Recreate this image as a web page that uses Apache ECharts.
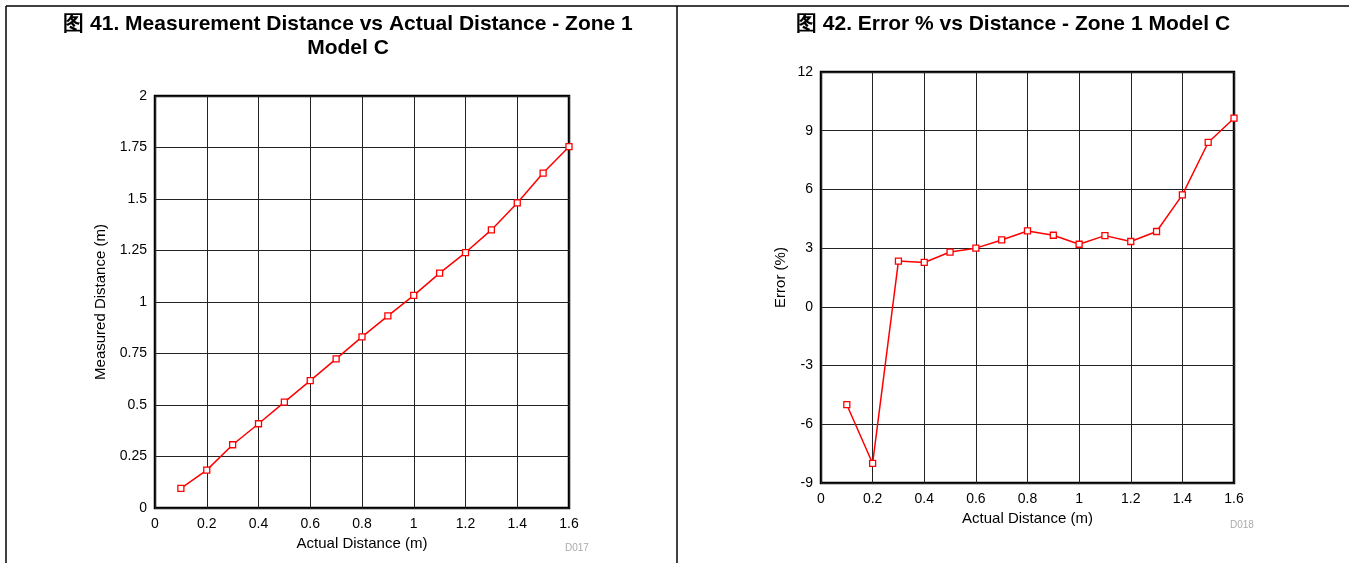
<!DOCTYPE html>
<html><head><meta charset="utf-8">
<script src="https://cdn.jsdelivr.net/npm/echarts@6/dist/echarts.min.js"></script>
<style>html,body{margin:0;padding:0;background:#fff}#c{width:1349px;height:563px}</style>
</head><body><div id="c"></div>
<script>
const actualDistance = [0.1,0.2,0.3,0.4,0.5,0.6,0.7,0.8,0.9,1.0,1.1,1.2,1.3,1.4,1.5,1.6];
const measuredDistance = [0.095,0.184,0.307,0.409,0.514,0.618,0.724,0.831,0.933,1.032,1.140,1.240,1.350,1.481,1.626,1.754];
const errorPct = [-5.0,-8.0,2.34,2.27,2.8,3.0,3.42,3.88,3.66,3.2,3.64,3.34,3.85,5.72,8.4,9.64];
const leftTitle = '图 41. Measurement Distance vs Actual Distance - Zone 1\nModel C';
const rightTitle = '图 42. Error % vs Distance - Zone 1 Model C';

const FONT = '"Liberation Sans", Arial, sans-serif';
const chart = echarts.init(document.getElementById('c'));
const pair = (xs, ys) => xs.map((x, i) => [x, ys[i]]);

function xAx(gi, nameGap) {
  return {
    type: 'value', gridIndex: gi, min: 0, max: 1.6, interval: 0.2,
    name: 'Actual Distance (m)', nameLocation: 'middle', nameGap: nameGap,
    nameTextStyle: { fontFamily: FONT, fontSize: 15, color: '#000' },
    axisLine: { show: false }, axisTick: { show: false },
    axisLabel: { fontFamily: FONT, fontSize: 14, color: '#000', margin: 9,
      formatter: v => String(Math.round(v * 10) / 10) },
    splitLine: { show: true, lineStyle: { color: '#222', width: 1 } }
  };
}
function series(xi, data) {
  return {
    type: 'line', xAxisIndex: xi, yAxisIndex: xi, data: data,
    symbol: 'rect', symbolSize: 6, showSymbol: true,
    lineStyle: { color: '#ff0000', width: 1.5 },
    itemStyle: { color: '#fff', borderColor: '#ff0000', borderWidth: 1.3 },
    animation: false, z: 5
  };
}
chart.setOption({
  animation: false,
  title: [
    { text: leftTitle, left: 343, top: 7, textAlign: 'center',
      textStyle: { fontFamily: FONT, fontSize: 21, fontWeight: 'bold', color: '#000', lineHeight: 24, align: 'center' } },
    { text: rightTitle, left: 1008, top: 7, textAlign: 'center',
      textStyle: { fontFamily: FONT, fontSize: 21, fontWeight: 'bold', color: '#000', lineHeight: 24 } }
  ],
  grid: [
    { left: 155, top: 96, width: 414, height: 412, show: true, borderColor: '#000', borderWidth: 2.5, backgroundColor: 'transparent' },
    { left: 821, top: 72, width: 413, height: 411, show: true, borderColor: '#000', borderWidth: 2.5, backgroundColor: 'transparent' }
  ],
  xAxis: [xAx(0, 26), xAx(1, 27)],
  yAxis: [
    { type: 'value', gridIndex: 0, min: 0, max: 2, interval: 0.25,
      name: 'Measured Distance (m)', nameLocation: 'middle', nameGap: 47,
      nameTextStyle: { fontFamily: FONT, fontSize: 15, color: '#000' },
      axisLine: { show: false }, axisTick: { show: false },
      axisLabel: { fontFamily: FONT, fontSize: 14, color: '#000', margin: 8 },
      splitLine: { show: true, lineStyle: { color: '#222', width: 1 } } },
    { type: 'value', gridIndex: 1, min: -9, max: 12, interval: 3,
      name: 'Error (%)', nameLocation: 'middle', nameGap: 33,
      nameTextStyle: { fontFamily: FONT, fontSize: 15, color: '#000' },
      axisLine: { show: false }, axisTick: { show: false },
      axisLabel: { fontFamily: FONT, fontSize: 14, color: '#000', margin: 8 },
      splitLine: { show: true, lineStyle: { color: '#222', width: 1 } } }
  ],
  series: [series(0, pair(actualDistance, measuredDistance)), series(1, pair(actualDistance, errorPct))],
  graphic: [
    { type: 'line', shape: { x1: 6, y1: 6, x2: 1349, y2: 6 }, style: { stroke: '#000', lineWidth: 1.5 } },
    { type: 'line', shape: { x1: 6, y1: 6, x2: 6, y2: 563 }, style: { stroke: '#000', lineWidth: 1.5 } },
    { type: 'line', shape: { x1: 677, y1: 6, x2: 677, y2: 563 }, style: { stroke: '#000', lineWidth: 1.5 } },
    { type: 'text', left: 565, top: 543, style: { text: 'D017', fontFamily: FONT, fontSize: 10, fill: '#aaa' } },
    { type: 'text', left: 1230, top: 520, style: { text: 'D018', fontFamily: FONT, fontSize: 10, fill: '#aaa' } }
  ]
});
</script></body></html>
